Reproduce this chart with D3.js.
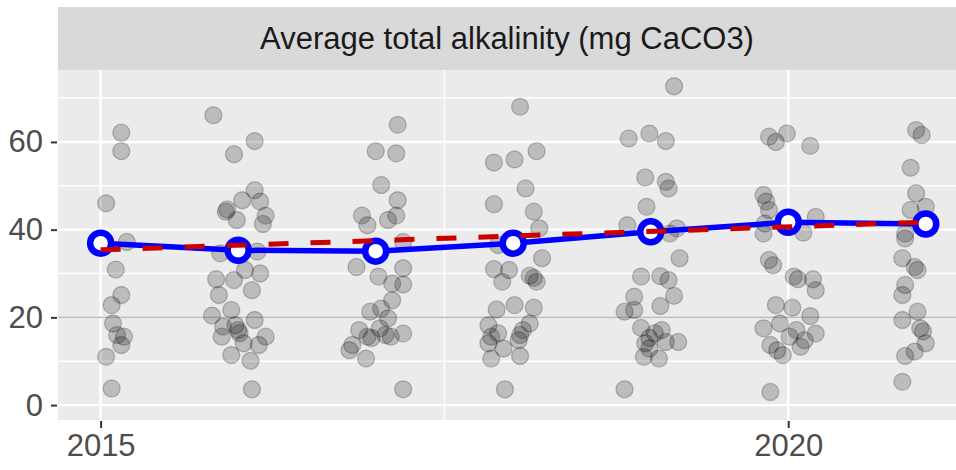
<!DOCTYPE html>
<html>
<head>
<meta charset="utf-8">
<script src="https://cdn.jsdelivr.net/npm/d3@7"></script>
<style>
  body { margin: 0; background: #fff; }
  text { font-family: "Liberation Sans", Arial, sans-serif; }
</style>
</head>
<body>
<div class="chart"></div>
<script>
// DATA ------------------------------------
const years = [2015, 2016, 2017, 2018, 2019, 2020, 2021];
const yearMeans = [36.9, 35.3, 35.1, 36.9, 39.5, 41.7, 41.3];
// dashed trend line, read at its two ends
const trendYears = [2015, 2021];
const trendValues = [35.4, 41.7];
const yTicks = [0, 20, 40, 60];
const yMinor = [10, 30, 50, 70];
const xTicks = [2015, 2020];
const xMinor = [2017.5];
const refLine = 20;
const stripTitle = "Average total alkalinity (mg CaCO3)";

// jittered samples: [offset from year, value]
const samples2015 = [[0.15, 62.1], [0.15, 57.9], [0.04, 46], [0.19, 37.2], [0.11, 30.9], [0.15, 25.1],
  [0.08, 22.8], [0.09, 18.6], [0.17, 15.6], [0.12, 16], [0.15, 13.7], [0.04, 11], [0.08, 3.8]];
const samples2016 = [[-0.18, 66.1], [0.12, 60.2], [-0.03, 57.2], [0.12, 49], [0.03, 46.7], [0.16, 46.4],
  [-0.08, 44.6], [-0.09, 44.1], [-0.01, 42.2], [0.2, 43.2], [0.18, 41.3], [-0.13, 34.6], [0.14, 35],
  [0.05, 30.8], [-0.16, 28.7], [-0.03, 28.5], [0.16, 30], [0.1, 26.2], [-0.14, 25.1], [-0.19, 20.4],
  [-0.05, 21.7], [0.12, 19.4], [-0.11, 17.9], [-0.02, 18.2], [0.01, 16.4], [0, 17.1], [-0.12, 15.6],
  [0.04, 14.1], [0.2, 15.6], [0.15, 13.7], [-0.05, 11.4], [0.09, 10.1], [0.1, 3.6]];
const samples2017 = [[0.16, 63.9], [0, 57.9], [0.15, 57.4], [0.04, 50.2], [0.16, 46.7], [0.15, 43.2],
  [0.09, 42.2], [-0.1, 43.2], [-0.06, 41], [0.2, 37.2], [-0.14, 31.5], [0.2, 31.2], [0.02, 29.3],
  [0.12, 27.7], [0.2, 27.5], [0.12, 23.9], [0.04, 22], [-0.04, 21.3], [0.09, 19.8], [-0.12, 17.1],
  [0.03, 17.5], [0.07, 16], [-0.03, 15.3], [0.2, 16.3], [-0.06, 15.6], [-0.17, 13.7], [-0.19, 12.5],
  [-0.07, 10.6], [0.11, 15.6], [0.2, 3.6]];
const samples2018 = [[0.05, 68], [0.17, 57.9], [-0.14, 55.3], [0.01, 56], [0.09, 49.4], [-0.14, 45.8],
  [0.15, 44.1], [0.19, 40.3], [-0.11, 36.5], [0.21, 33.5], [-0.14, 31], [-0.03, 30.8], [-0.08, 28.1],
  [0.12, 29.5], [0.17, 28.1], [0.15, 29], [-0.12, 21.8], [0.01, 22.8], [0.15, 22.2], [-0.18, 18.2],
  [0.12, 18.6], [-0.16, 15.6], [-0.11, 16.4], [-0.18, 14.1], [0.05, 16], [0.07, 17.1], [0.04, 14.8],
  [-0.07, 12.9], [-0.16, 10.6], [0.05, 11.2], [-0.06, 3.6]];
const samples2019 = [[0.17, 72.7], [-0.16, 60.8], [-0.01, 61.9], [0.11, 60.2], [-0.04, 51.9], [0.11, 50.9],
  [0.13, 49.4], [-0.03, 45.2], [-0.17, 41], [0.19, 40.3], [0.14, 39.1], [0.21, 33.5], [-0.07, 29.3],
  [0.07, 29.4], [0.13, 28.5], [-0.12, 24.7], [0.17, 24.9], [0.07, 22.6], [-0.19, 21.3], [-0.12, 21.7],
  [-0.07, 17.6], [0.03, 16.4], [-0.01, 15.3], [0.08, 17.1], [-0.04, 14.1], [0.2, 14.4], [0.11, 14.4],
  [-0.05, 11], [0.06, 10.6], [-0.01, 12.9], [-0.19, 3.6]];
const samples2020 = [[-0.14, 61.2], [-0.09, 60], [-0.01, 61.9], [0.16, 59.1], [-0.18, 47.9], [-0.16, 46.4],
  [-0.14, 44.5], [-0.17, 41.4], [0.2, 42.9], [-0.18, 39.1], [0.11, 39.3], [-0.14, 33.1], [-0.11, 31.9],
  [0.04, 29.3], [0.07, 28.7], [0.18, 28.7], [0.2, 26.2], [-0.09, 22.8], [0.03, 22.2], [0.16, 20.3],
  [-0.18, 17.5], [-0.06, 18.6], [0.2, 16.3], [0.06, 17.1], [-0.08, 12.5], [-0.13, 13.7], [-0.04, 11.4],
  [0.12, 14.8], [0.09, 13.3], [0.01, 15.6], [-0.13, 3]];
const samples2021 = [[-0.07, 62.7], [-0.03, 61.6], [-0.11, 54.1], [-0.07, 48.3], [0, 45.2], [-0.11, 44.5],
  [-0.15, 38], [-0.15, 39.1], [-0.17, 33.5], [-0.06, 30.8], [-0.08, 31.5], [-0.15, 27.4], [-0.17, 25.1],
  [-0.06, 21.3], [-0.17, 19.4], [-0.02, 16.8], [-0.04, 17.5], [0, 14.1], [-0.08, 12.2], [-0.15, 11.2],
  [-0.17, 5.3]];
const samplesByYear = [samples2015, samples2016, samples2017, samples2018, samples2019, samples2020, samples2021];

// CHART INIT ------------------------------
const W = 956, H = 470;
const panel = ({left: 58, right: 956, top: 70, bottom: 420});
const stripTop = 7;

const svg = d3.select(".chart")
  .append("svg")
  .attr("width", W)
  .attr("height", H);

const xScale = d3.scaleLinear()
  .domain([2014.69, 2021.22])
  .range([panel.left, panel.right]);

const yScale = d3.scaleLinear()
  .domain([-3.4, 76.4])
  .range([panel.bottom, panel.top]);

// strip
svg.append("rect")
  .attr("x", panel.left)
  .attr("y", stripTop)
  .attr("width", panel.right - panel.left)
  .attr("height", panel.top - stripTop)
  .attr("fill", "#d9d9d9");

svg.append("text")
  .attr("x", (panel.left + panel.right) / 2)
  .attr("y", (stripTop + panel.top) / 2)
  .attr("text-anchor", "middle")
  .attr("dominant-baseline", "central")
  .attr("font-size", 31)
  .attr("fill", "#1a1a1a")
  .text(stripTitle);

// panel background
svg.append("rect")
  .attr("x", panel.left)
  .attr("y", panel.top)
  .attr("width", panel.right - panel.left)
  .attr("height", panel.bottom - panel.top)
  .attr("fill", "#ebebeb");

svg.append("clipPath")
  .attr("id", "clip")
  .append("rect")
  .attr("x", panel.left)
  .attr("y", panel.top)
  .attr("width", panel.right - panel.left)
  .attr("height", panel.bottom - panel.top);

const grid = svg.append("g").attr("clip-path", "url(#clip)");

// minor grid
grid.selectAll(".y-minor").data(yMinor).enter().append("line")
  .attr("x1", panel.left).attr("x2", panel.right)
  .attr("y1", d => yScale(d)).attr("y2", d => yScale(d))
  .attr("stroke", "#fff").attr("stroke-width", 1.4);
grid.selectAll(".x-minor").data(xMinor).enter().append("line")
  .attr("x1", d => xScale(d)).attr("x2", d => xScale(d))
  .attr("y1", panel.top).attr("y2", panel.bottom)
  .attr("stroke", "#fff").attr("stroke-width", 1.4);

// major grid
grid.selectAll(".y-major").data(yTicks).enter().append("line")
  .attr("x1", panel.left).attr("x2", panel.right)
  .attr("y1", d => yScale(d)).attr("y2", d => yScale(d))
  .attr("stroke", "#fff").attr("stroke-width", 2.4);
grid.selectAll(".x-major").data(xTicks).enter().append("line")
  .attr("x1", d => xScale(d)).attr("x2", d => xScale(d))
  .attr("y1", panel.top).attr("y2", panel.bottom)
  .attr("stroke", "#fff").attr("stroke-width", 2.4);

// reference line
grid.append("line")
  .attr("x1", panel.left).attr("x2", panel.right)
  .attr("y1", yScale(refLine)).attr("y2", yScale(refLine))
  .attr("stroke", "#bebebe").attr("stroke-width", 1.6);

// axes
const yAxis = d3.axisLeft(yScale).tickValues(yTicks).tickSize(6).tickPadding(8);
const xAxis = d3.axisBottom(xScale).tickValues(xTicks).tickFormat(d3.format("d")).tickSize(7).tickPadding(6);

svg.append("g")
  .attr("class", "axis y-axis")
  .attr("transform", `translate(${panel.left - 1}, 0)`)
  .call(yAxis);

svg.append("g")
  .attr("class", "axis x-axis")
  .attr("transform", `translate(0, ${panel.bottom + 1})`)
  .call(xAxis);

svg.selectAll(".axis .domain").remove();
svg.selectAll(".axis line").attr("stroke", "#333").attr("stroke-width", 2);
svg.selectAll(".axis text")
  .attr("font-size", 31)
  .attr("fill", "#4d4d4d")
  .attr("font-family", "Liberation Sans, Arial, sans-serif");

// MARKS -----------------------------------
const marks = svg.append("g").attr("clip-path", "url(#clip)");

const points = [];
samplesByYear.forEach((arr, i) => {
  arr.forEach(p => points.push({x: years[i] + p[0], v: p[1]}));
});

marks.selectAll(".pt")
  .data(points)
  .enter()
  .append("circle")
  .attr("class", "pt")
  .attr("cx", d => xScale(d.x))
  .attr("cy", d => yScale(d.v))
  .attr("r", 8.5)
  .attr("fill", "#000")
  .attr("fill-opacity", 0.2)
  .attr("stroke", "#000")
  .attr("stroke-opacity", 0.22)
  .attr("stroke-width", 1.3);

const meanData = years.map((y, i) => ({x: y, v: yearMeans[i]}));

const line = d3.line()
  .x(d => xScale(d.x))
  .y(d => yScale(d.v));

marks.append("path")
  .datum(meanData)
  .attr("d", line)
  .attr("fill", "none")
  .attr("stroke", "#0000ff")
  .attr("stroke-width", 5.5);

marks.selectAll(".mean")
  .data(meanData)
  .enter()
  .append("circle")
  .attr("class", "mean")
  .attr("cx", d => xScale(d.x))
  .attr("cy", d => yScale(d.v))
  .attr("r", 10.5)
  .attr("fill", "#fff")
  .attr("stroke", "#0000ff")
  .attr("stroke-width", 6.5);

const trendData = trendYears.map((y, i) => ({x: y, v: trendValues[i]}));

marks.append("path")
  .datum(trendData)
  .attr("d", line)
  .attr("fill", "none")
  .attr("stroke", "#cd0000")
  .attr("stroke-width", 5)
  .attr("stroke-dasharray", "20,22");
</script>
</body>
</html>
